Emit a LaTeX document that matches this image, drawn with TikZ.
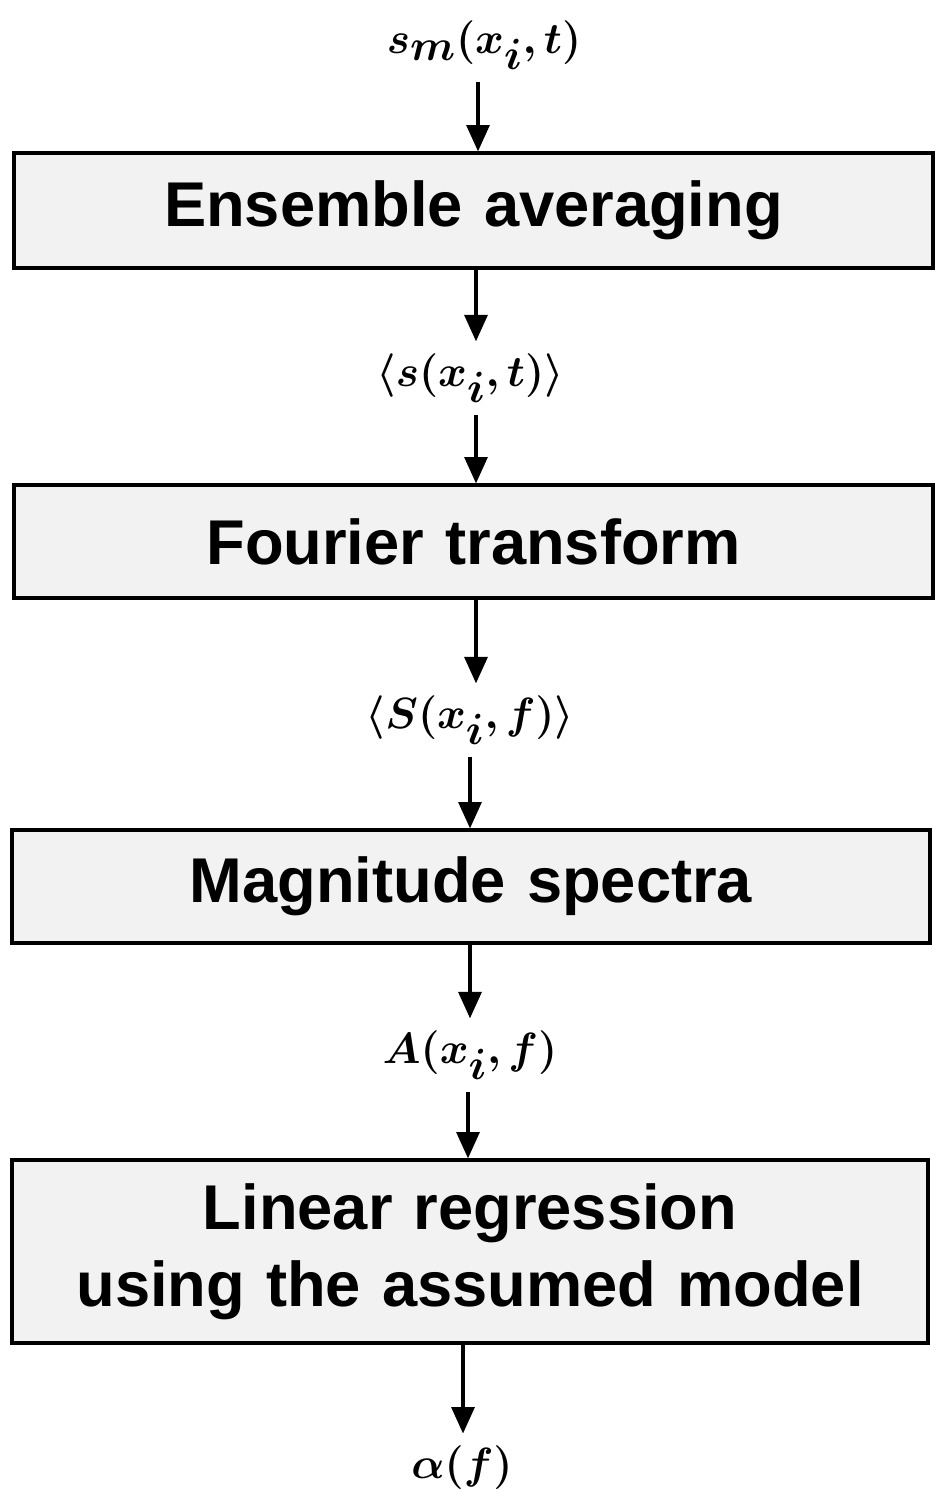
\documentclass[tikz,border=0pt]{standalone}
\usepackage{fontspec}
\setmainfont{Liberation Sans}
\usepackage{amsmath,bm}
\usetikzlibrary{arrows.meta}
\begin{document}
\begin{tikzpicture}[x=0.02cm,y=-0.02cm,
  box/.style={draw,line width=1.8pt,fill=gray!10,font=\bfseries\fontsize{36}{44}\selectfont,align=center,inner sep=0pt,text width=900*0.02cm},
  lab/.style={font=\fontsize{39}{44}\selectfont,inner xsep=4pt,inner ysep=7pt},
  arr/.style={line width=2pt,-{Triangle[length=15pt,width=13pt]}}]
\useasboundingbox (0,0) rectangle (943,1510);
\node[box,minimum width=919*0.02cm,minimum height=115*0.02cm] (b1) at (473.5,210.5) {Ensemble averaging};
\node[box,minimum width=919*0.02cm,minimum height=113*0.02cm] (b2) at (473.5,541.5) {Fourier transform};
\node[box,minimum width=918*0.02cm,minimum height=113*0.02cm] (b3) at (471,886.5) {Magnitude spectra};
\node[box,minimum width=916*0.02cm,minimum height=183*0.02cm] (b4) at (470,1251.5) {Linear regression\\[0pt]using the assumed model};
\node[lab] (l0) at (484,45) {$\bm{s_m(x_i,t)}$};
\node[lab] (l1) at (470,378) {$\bm{\langle s(x_i,t)\rangle}$};
\node[lab] (l2) at (470,720) {$\bm{\langle S(x_i,f)\rangle}$};
\node[lab] (l3) at (470,1055) {$\bm{A(x_i,f)}$};
\node[lab] (l4) at (462,1468) {$\bm{\alpha(f)}$};
\draw[arr] (l0.south -| 478,0) -- (b1.north -| 478,0);
\draw[arr] (b1.south -| 476,0) -- (l1.north -| 476,0);
\draw[arr] (l1.south -| 476,0) -- (b2.north -| 476,0);
\draw[arr] (b2.south -| 476,0) -- (l2.north -| 476,0);
\draw[arr] (l2.south -| 470,0) -- (b3.north -| 470,0);
\draw[arr] (b3.south -| 470,0) -- (l3.north -| 470,0);
\draw[arr] (l3.south -| 468,0) -- (b4.north -| 468,0);
\draw[arr] (b4.south -| 463,0) -- (l4.north -| 463,0);
\end{tikzpicture}
\end{document}
